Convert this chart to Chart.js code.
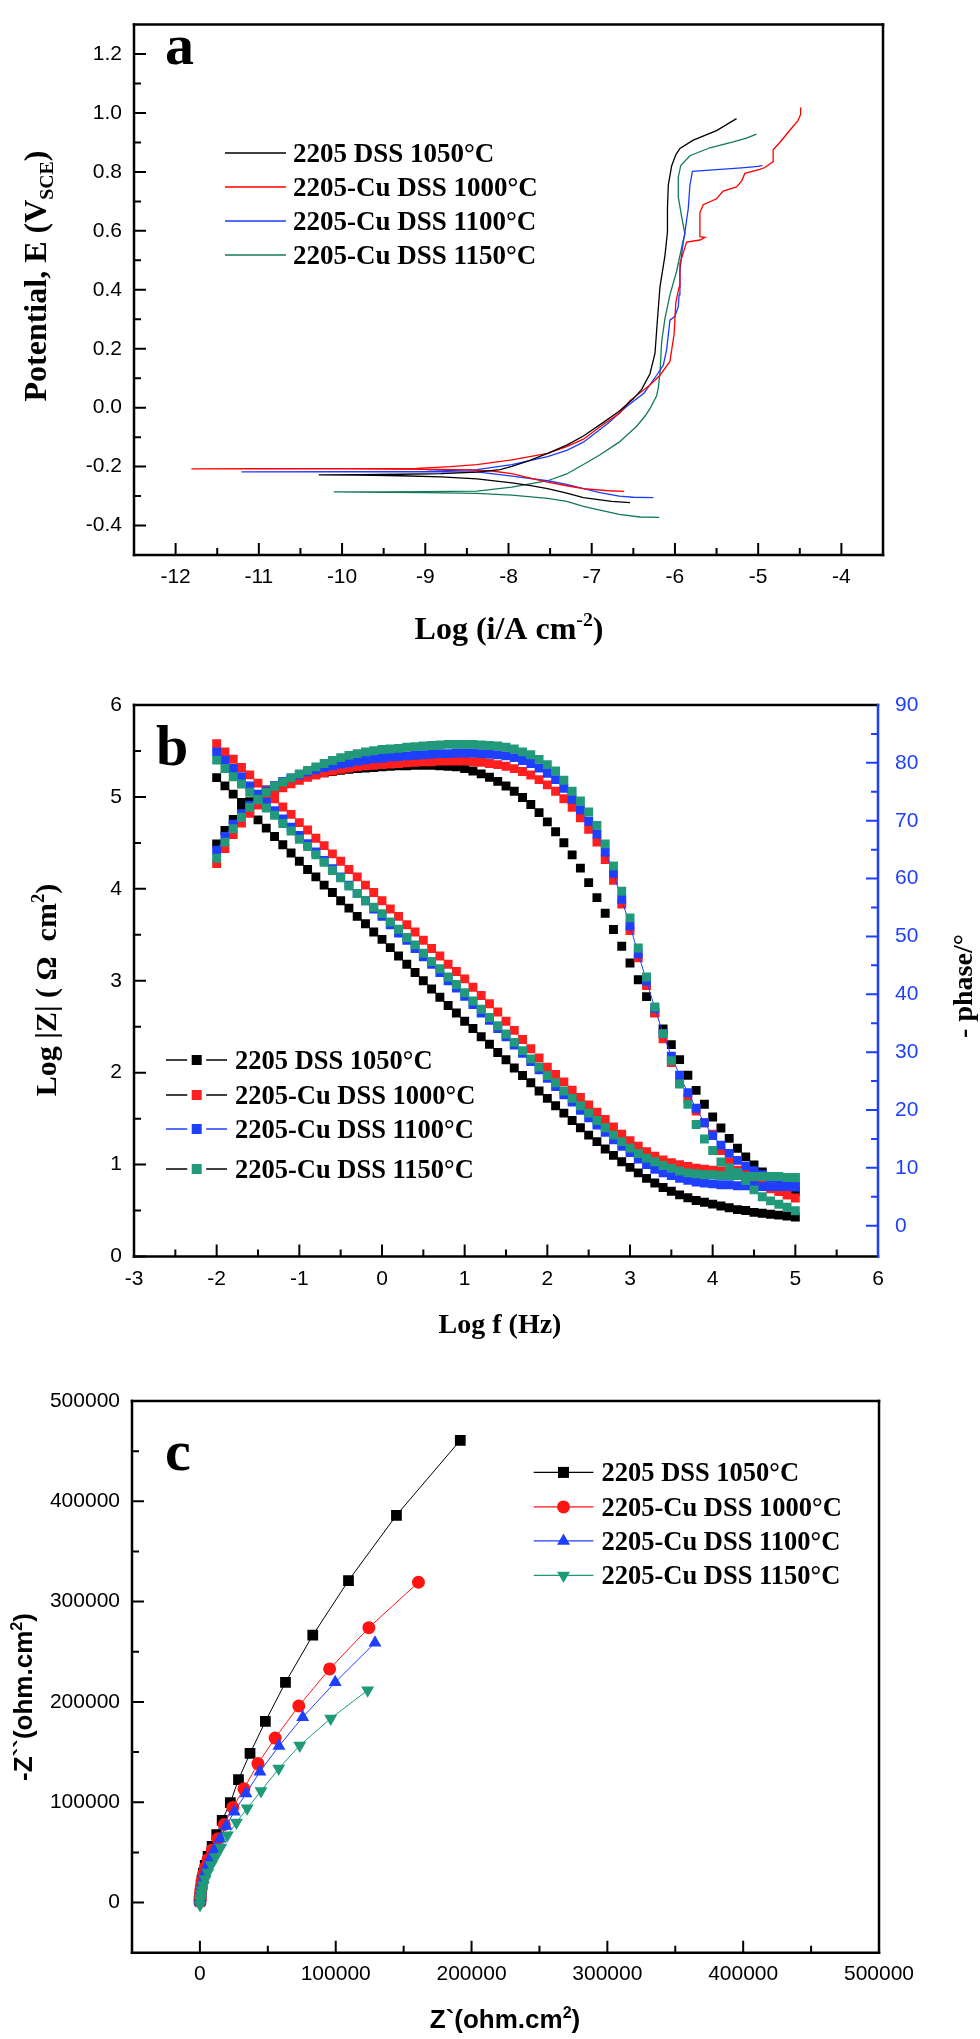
<!DOCTYPE html>
<html>
<head>
<meta charset="utf-8">
<script src="https://cdn.jsdelivr.net/npm/chart.js@4.4.1/dist/chart.umd.min.js"></script>
<style>
  html, body { margin: 0; padding: 0; background: #fff; }
  #page { position: relative; width: 980px; height: 2039px; overflow: hidden; background: #fff; }
  .panel { position: absolute; left: 0; width: 980px; }
</style>
</head>
<body>
<div id="page">
  <div class="panel" style="top:0;height:660px"><canvas id="chartA"></canvas></div>
  <div class="panel" style="top:660px;height:685px"><canvas id="chartB"></canvas></div>
  <div class="panel" style="top:1345px;height:694px"><canvas id="chartC"></canvas></div>
</div>
<script>
// ---------- labels ----------
const samples = ["2205 DSS 1050°C", "2205-Cu DSS 1000°C", "2205-Cu DSS 1100°C", "2205-Cu DSS 1150°C"];

// ---------- panel a : polarization curves (log i, E) ----------
const potX1050 = [-6.54,-6.76,-7.1,-7.3,-7.53,-7.75,-7.96,-8.38,-8.81,-9.3,-9.8,-10.28,-9.8,-9.3,-8.81,-8.38,-8.1,-7.96,-7.75,-7.53,-7.3,-7.1,-6.86,-6.67,-6.5,-6.4,-6.3,-6.24,-6.21,-6.18,-6.12,-6.09,-6.09,-6.08,-6.04,-5.99,-5.94,-5.78,-5.5,-5.26];
const potY1050 = [-0.322,-0.318,-0.305,-0.29,-0.275,-0.264,-0.255,-0.242,-0.235,-0.231,-0.229,-0.228,-0.227,-0.226,-0.224,-0.219,-0.21,-0.199,-0.18,-0.155,-0.127,-0.096,-0.05,-0.012,0.03,0.062,0.115,0.184,0.3,0.41,0.516,0.596,0.675,0.755,0.82,0.858,0.88,0.908,0.94,0.981];
const potX1000 = [-6.61,-6.8,-7.1,-7.3,-7.53,-7.75,-7.96,-8.2,-8.5,-9.0,-10.0,-11.0,-11.81,-11.0,-10.0,-9.11,-8.7,-8.38,-7.96,-7.53,-7.3,-7.1,-6.9,-6.67,-6.54,-6.3,-6.18,-6.06,-6.01,-5.99,-5.95,-5.94,-5.91,-5.86,-5.7,-5.64,-5.7,-5.7,-5.66,-5.5,-5.42,-5.26,-5.2,-5.16,-4.98,-4.92,-4.82,-4.82,-4.74,-4.58,-4.52,-4.49,-4.49];
const potY1000 = [-0.284,-0.282,-0.275,-0.265,-0.253,-0.238,-0.224,-0.215,-0.211,-0.209,-0.208,-0.208,-0.208,-0.207,-0.207,-0.206,-0.2,-0.193,-0.177,-0.155,-0.132,-0.107,-0.065,-0.02,0.024,0.077,0.11,0.157,0.25,0.356,0.41,0.49,0.516,0.562,0.569,0.578,0.58,0.662,0.689,0.709,0.735,0.749,0.769,0.795,0.809,0.815,0.835,0.875,0.9,0.955,0.975,0.995,1.019];
const potX1100 = [-6.26,-6.5,-6.67,-6.9,-7.1,-7.3,-7.53,-7.96,-8.38,-9.0,-10.0,-11.21,-10.0,-9.0,-8.38,-7.96,-7.53,-7.3,-7.1,-6.8,-6.58,-6.37,-6.22,-6.14,-6.1,-6.06,-6.0,-5.96,-5.95,-5.94,-5.91,-5.88,-5.84,-5.82,-5.79,-5.5,-5.2,-5.0,-4.95];
const potY1100 = [-0.305,-0.304,-0.3,-0.288,-0.275,-0.26,-0.248,-0.232,-0.218,-0.218,-0.218,-0.218,-0.217,-0.216,-0.21,-0.193,-0.166,-0.145,-0.117,-0.052,0.004,0.05,0.11,0.144,0.197,0.297,0.31,0.343,0.383,0.463,0.543,0.596,0.676,0.755,0.802,0.808,0.814,0.819,0.822];
const potX1150 = [-6.19,-6.42,-6.67,-6.9,-7.1,-7.3,-7.53,-7.96,-8.38,-9.0,-9.5,-10.1,-9.5,-9.0,-8.38,-7.96,-7.53,-7.3,-7.1,-6.9,-6.67,-6.46,-6.35,-6.29,-6.22,-6.2,-6.18,-6.16,-6.12,-6.06,-5.98,-5.9,-5.88,-5.92,-5.96,-5.96,-5.93,-5.82,-5.58,-5.3,-5.14,-5.02];
const potY1150 = [-0.372,-0.371,-0.362,-0.348,-0.335,-0.318,-0.308,-0.297,-0.291,-0.288,-0.287,-0.286,-0.286,-0.285,-0.283,-0.27,-0.248,-0.225,-0.193,-0.16,-0.117,-0.063,-0.025,0.002,0.04,0.067,0.117,0.223,0.303,0.383,0.463,0.569,0.589,0.649,0.715,0.782,0.822,0.855,0.882,0.902,0.915,0.928];
const aXTicks = [-12,-11,-10,-9,-8,-7,-6,-5,-4];
const aYTicks = [-0.4,-0.2,0.0,0.2,0.4,0.6,0.8,1.0,1.2];

// ---------- panel b : Bode plots ----------
const logF = [-2.0,-1.9,-1.8,-1.7,-1.6,-1.5,-1.4,-1.3,-1.2,-1.1,
  -1.0,-0.9,-0.8,-0.7,-0.6,-0.5,-0.4,-0.3,-0.2,-0.1,
  0.0,0.1,0.2,0.3,0.4,0.5,0.6,0.7,0.8,0.9,
  1.0,1.1,1.2,1.3,1.4,1.5,1.6,1.7,1.8,1.9,
  2.0,2.1,2.2,2.3,2.4,2.5,2.6,2.7,2.8,2.9,
  3.0,3.1,3.2,3.3,3.4,3.5,3.6,3.7,3.8,3.9,
  4.0,4.1,4.2,4.3,4.4,4.5,4.6,4.7,4.8,4.9,5.0];
const logZ1050 = [5.21,5.12,5.03,4.94,4.85,4.75,4.66,4.57,4.48,4.39,
  4.30,4.21,4.13,4.04,3.96,3.87,3.79,3.70,3.62,3.53,
  3.45,3.36,3.27,3.18,3.09,3.00,2.91,2.82,2.73,2.65,
  2.56,2.48,2.39,2.31,2.22,2.14,2.05,1.97,1.89,1.80,
  1.72,1.64,1.56,1.48,1.40,1.32,1.25,1.17,1.10,1.03,
  0.97,0.91,0.85,0.80,0.75,0.71,0.67,0.64,0.61,0.59,
  0.57,0.55,0.53,0.51,0.50,0.48,0.47,0.46,0.45,0.44,0.43];
const logZ1000 = [5.58,5.49,5.41,5.32,5.24,5.15,5.07,4.98,4.89,4.81,
  4.72,4.64,4.55,4.47,4.38,4.30,4.21,4.13,4.04,3.96,
  3.87,3.78,3.70,3.61,3.53,3.44,3.35,3.27,3.18,3.10,
  3.02,2.93,2.84,2.75,2.66,2.56,2.46,2.36,2.26,2.16,
  2.06,1.98,1.90,1.81,1.73,1.65,1.57,1.49,1.41,1.33,
  1.26,1.20,1.14,1.09,1.05,1.02,1.00,0.98,0.96,0.95,
  0.94,0.93,0.92,0.91,0.90,0.89,0.88,0.87,0.86,0.86,0.85];
const logZ1100 = [5.49,5.40,5.31,5.22,5.12,5.03,4.94,4.85,4.76,4.67,
  4.58,4.49,4.40,4.31,4.22,4.13,4.04,3.95,3.87,3.78,
  3.70,3.61,3.52,3.44,3.35,3.26,3.18,3.09,3.00,2.92,
  2.83,2.74,2.65,2.57,2.48,2.39,2.30,2.21,2.12,2.03,
  1.94,1.85,1.76,1.68,1.59,1.51,1.43,1.35,1.27,1.20,
  1.13,1.06,1.00,0.95,0.91,0.88,0.85,0.83,0.81,0.80,
  0.79,0.78,0.78,0.77,0.77,0.77,0.76,0.76,0.76,0.76,0.76];
const logZ1150 = [5.40,5.31,5.22,5.14,5.05,4.97,4.88,4.80,4.71,4.63,
  4.54,4.46,4.37,4.29,4.20,4.12,4.03,3.95,3.87,3.80,
  3.73,3.64,3.56,3.47,3.39,3.30,3.21,3.13,3.04,2.96,
  2.87,2.78,2.69,2.60,2.51,2.42,2.33,2.24,2.15,2.06,
  1.97,1.89,1.80,1.72,1.64,1.56,1.48,1.40,1.32,1.25,
  1.18,1.12,1.07,1.03,0.99,0.96,0.93,0.91,0.90,0.89,
  0.89,0.88,0.88,0.88,0.87,0.87,0.87,0.87,0.87,0.86,0.86];
const phase1050 = [66.0,68.3,70.2,72.0,73.3,74.4,75.3,76.0,76.6,77.1,
  77.5,77.8,78.1,78.3,78.5,78.7,78.9,79.0,79.1,79.2,
  79.3,79.4,79.5,79.5,79.6,79.6,79.6,79.5,79.4,79.3,
  79.0,78.6,78.1,77.5,76.8,76.0,75.1,74.0,72.8,71.4,
  69.8,68.1,66.2,64.1,61.8,59.3,56.7,54.0,51.2,48.3,
  45.4,42.5,39.6,36.8,34.0,31.3,28.7,26.0,23.4,21.0,
  18.8,16.9,15.1,13.4,11.9,10.5,9.3,8.3,7.4,6.6,5.9];
const phase1000 = [62.6,65.2,67.6,69.6,71.3,72.7,73.9,74.9,75.7,76.4,
  77.0,77.5,77.9,78.3,78.6,78.9,79.1,79.3,79.5,79.6,
  79.7,79.8,79.9,80.0,80.1,80.2,80.2,80.3,80.3,80.3,
  80.3,80.2,80.1,79.9,79.7,79.4,79.0,78.5,77.9,77.1,
  76.2,75.1,73.8,72.3,70.5,68.5,66.3,63.3,59.7,55.6,
  51.0,46.3,41.5,36.8,32.3,28.2,24.8,22.0,19.8,17.8,
  15.8,13.0,11.0,9.6,8.5,7.7,7.0,6.4,5.9,5.3,4.8];
const phase1100 = [64.9,67.3,69.4,71.2,72.7,74.0,75.1,76.0,76.8,77.4,
  77.9,78.4,78.8,79.2,79.5,79.8,80.0,80.3,80.5,80.7,
  80.8,81.0,81.1,81.2,81.3,81.4,81.5,81.6,81.6,81.7,
  81.7,81.7,81.6,81.5,81.4,81.2,80.9,80.4,79.9,79.1,
  78.2,77.1,75.6,73.7,71.9,69.9,67.7,64.6,60.9,56.4,
  51.8,47.0,42.3,37.6,33.2,29.3,26.0,23.0,20.3,17.8,
  15.6,13.9,12.5,11.3,10.3,9.5,8.8,8.2,7.6,7.1,6.7];
const phase1150 = [63.5,66.3,68.6,70.6,72.3,73.7,74.9,75.9,76.7,77.4,
  78.1,78.7,79.3,79.9,80.4,80.9,81.3,81.6,81.9,82.1,
  82.3,82.4,82.5,82.7,82.8,82.9,83.0,83.1,83.2,83.2,
  83.2,83.2,83.1,83.0,82.9,82.7,82.4,81.9,81.4,80.6,
  79.7,78.6,77.0,75.1,73.4,71.5,69.2,66.0,62.2,57.8,
  53.2,48.0,43.0,37.8,33.2,28.5,24.5,21.0,17.5,15.0,
  13.0,11.0,10.0,9.2,7.8,6.2,5.0,4.3,3.7,3.2,2.6];
const bXTicks = [-3,-2,-1,0,1,2,3,4,5,6];
const bYTicks = [0,1,2,3,4,5,6];
const bPhaseTicks = [0,10,20,30,40,50,60,70,80,90];

// ---------- panel c : Nyquist plots ----------
const nyqX1050 = [191700,144700,109400,83100,63000,48200,36900,28400,22400,16400,12400,9000,6000,3900,2500,1500,900,500,300,150,60];
const nyqY1050 = [460800,386100,321000,266500,219500,180500,148800,122500,99600,82000,67800,56000,46000,37000,29000,22000,16000,11000,7000,4000,1500];
const nyqX1000 = [160900,124400,95500,72800,55400,42700,32400,24200,17900,13100,9000,6000,4000,2600,1600,1000,600,350,200,100,50];
const nyqY1000 = [319300,274000,232900,196000,164000,138500,113400,94800,77800,63500,52500,43000,35000,28000,21500,16000,11500,7500,4500,2500,1000];
const nyqX1100 = [128900,99600,75700,58200,44200,33900,25300,19250,14900,10700,7500,5000,3300,2100,1300,800,450,250,130,60];
const nyqY1100 = [258900,219600,184800,156000,130500,108600,90600,76400,63500,53000,44000,36000,29000,22500,17000,12000,8000,4800,2500,1000];
const nyqX1150 = [123500,96300,73500,58000,45000,34800,26900,20200,15400,11500,8300,5800,3900,2500,1500,900,500,250,100];
const nyqY1150 = [211700,183500,156600,133600,111100,93900,79700,67000,55000,45500,37500,30000,23500,17500,12500,8500,5000,2000,-2500];
const cTicks = [0,100000,200000,300000,400000,500000];

// ---------- styling ----------
const SERIF = '"Liberation Serif", "Times New Roman", serif';
const SANS = '"Liberation Sans", Arial, sans-serif';
const colA = ["#000000", "#ff0000", "#1a3cff", "#147a55"];
const colB = ["#000000", "#ff1f1f", "#1f3fff", "#22997a"];
const colC = ["#000000", "#ff1414", "#1f3fff", "#1f9a78"];
const BLUE_AXIS = "#1f3fff";

Chart.defaults.font.family = SANS;
Chart.defaults.color = "#000";

function pairs(xs, ys) {
  return xs.map((v, i) => ({ x: v, y: ys[i] }));
}

function line(ctx, x1, y1, x2, y2, color) {
  ctx.strokeStyle = color;
  ctx.beginPath();
  ctx.moveTo(x1, y1);
  ctx.lineTo(x2, y2);
  ctx.stroke();
}

// text with superscript (1) / subscript (-1) parts
function drawRich(ctx, parts, size, family, x, y, rot) {
  ctx.save();
  ctx.translate(x, y);
  if (rot) ctx.rotate(rot);
  ctx.fillStyle = "#000";
  ctx.textAlign = "left";
  ctx.textBaseline = "alphabetic";
  let total = 0;
  const items = parts.map(p => {
    const t = typeof p === "string" ? p : p[0];
    const m = typeof p === "string" ? 0 : p[1];
    const sz = m ? size * 0.62 : size;
    ctx.font = "bold " + sz + "px " + family;
    const w = ctx.measureText(t).width;
    total += w;
    return { t, m, sz, w };
  });
  let cx = -total / 2;
  items.forEach(it => {
    ctx.font = "bold " + it.sz + "px " + family;
    const dy = it.m === 1 ? -size * 0.4 : it.m === -1 ? size * 0.22 : 0;
    ctx.fillText(it.t, cx, dy);
    cx += it.w;
  });
  ctx.restore();
}

function drawMarker(ctx, kind, x, y, color) {
  ctx.fillStyle = color;
  ctx.beginPath();
  if (kind === "rect") {
    ctx.rect(x - 5.5, y - 5.5, 11, 11);
  } else if (kind === "rectSmall") {
    ctx.rect(x - 5, y - 5, 10, 10);
  } else if (kind === "circle") {
    ctx.arc(x, y, 6.5, 0, Math.PI * 2);
  } else if (kind === "tri") {
    ctx.moveTo(x, y - 7.5);
    ctx.lineTo(x + 6.5, y + 3.75);
    ctx.lineTo(x - 6.5, y + 3.75);
    ctx.closePath();
  } else if (kind === "triDown") {
    ctx.moveTo(x, y + 7.5);
    ctx.lineTo(x + 6.5, y - 3.75);
    ctx.lineTo(x - 6.5, y - 3.75);
    ctx.closePath();
  }
  ctx.fill();
}

// frame, inward ticks, axis titles, legend and panel letter
function makeDeco(cfg) {
  return {
    id: "deco",
    afterDraw(chart) {
      const ctx = chart.ctx;
      const a = chart.chartArea;
      ctx.save();
      ctx.lineCap = "butt";
      cfg.ticks.forEach(t => {
        const sc = chart.scales[t.scale];
        ctx.strokeStyle = t.color;
        ctx.lineWidth = 2;
        const marks = [];
        t.values.forEach((v, i) => {
          marks.push([v, 12]);
          if (i < t.values.length - 1) marks.push([(v + t.values[i + 1]) / 2, 7]);
        });
        ctx.beginPath();
        marks.forEach(([v, len]) => {
          const p = sc.getPixelForValue(v);
          if (t.side === "bottom") { ctx.moveTo(p, a.bottom); ctx.lineTo(p, a.bottom - len); }
          else if (t.side === "left") { ctx.moveTo(a.left, p); ctx.lineTo(a.left + len, p); }
          else { ctx.moveTo(a.right, p); ctx.lineTo(a.right - len, p); }
        });
        ctx.stroke();
      });

      ctx.lineWidth = 2.5;
      ctx.lineCap = "square";
      const f = cfg.frame;
      line(ctx, a.left, a.top, a.right, a.top, f.top);
      line(ctx, a.left, a.bottom, a.right, a.bottom, f.bottom);
      line(ctx, a.left, a.top, a.left, a.bottom, f.left);
      line(ctx, a.right, a.top, a.right, a.bottom, f.right);

      cfg.titles.forEach(t => drawRich(ctx, t.parts, t.size, t.family, t.x, t.y, t.rot));

      const L = cfg.legend;
      ctx.lineCap = "butt";
      L.rows.forEach((y, i) => {
        const it = L.items[i];
        ctx.lineWidth = L.lineWidth;
        if (L.kind === "split") {
          line(ctx, L.x1, y, L.mx - 9.5, y, it.line);
          line(ctx, L.mx + 9.5, y, L.x2, y, it.line);
        } else {
          line(ctx, L.x1, y, L.x2, y, it.color);
        }
        if (it.marker) drawMarker(ctx, it.marker, L.mx, y, it.color);
        ctx.fillStyle = "#000";
        ctx.font = "bold " + L.size + "px " + SERIF;
        ctx.textAlign = "left";
        ctx.textBaseline = "alphabetic";
        ctx.fillText(it.label, L.tx, y + L.size * 0.33);
      });

      ctx.fillStyle = "#000";
      ctx.font = "bold 58px " + SERIF;
      ctx.textAlign = "left";
      ctx.textBaseline = "alphabetic";
      ctx.fillText(cfg.letter.t, cfg.letter.x, cfg.letter.y);
      ctx.restore();
    }
  };
}

function axisBase(min, max, ticks, fmt, pad, color) {
  return {
    type: "linear",
    min: min,
    max: max,
    afterBuildTicks: s => { s.ticks = ticks.map(v => ({ value: v })); },
    grid: { display: false, drawTicks: false },
    border: { display: false },
    ticks: {
      font: { family: SANS, size: 21 },
      color: color || "#000",
      padding: pad,
      autoSkip: false,
      maxRotation: 0,
      callback: fmt
    }
  };
}

const common = {
  responsive: true,
  maintainAspectRatio: false,
  animation: false,
  events: []
};

// ---------- chart a ----------
const potSeries = [[potX1050, potY1050], [potX1000, potY1000], [potX1100, potY1100], [potX1150, potY1150]];
const xA = axisBase(-12.5, -3.5, aXTicks, v => String(v), 10);
xA.afterFit = s => { s.height = 105; };
const yA = axisBase(-0.5, 1.3, aYTicks, v => v.toFixed(1), 12);
yA.afterFit = s => { s.width = 134; };

new Chart("chartA", {
  type: "scatter",
  data: {
    datasets: potSeries.map((s, i) => ({
      label: samples[i],
      data: pairs(s[0], s[1]),
      showLine: true,
      borderColor: colA[i],
      borderWidth: 1.3,
      pointRadius: 0,
      tension: 0,
      fill: false
    }))
  },
  options: Object.assign({}, common, {
    layout: { padding: { left: 0, right: 97, top: 4, bottom: 0 } },
    plugins: { legend: { display: false }, tooltip: { enabled: false } },
    scales: { x: xA, y: yA }
  }),
  plugins: [makeDeco({
    frame: { top: "#000", bottom: "#000", left: "#000", right: "#000" },
    ticks: [
      { scale: "x", side: "bottom", values: aXTicks, color: "#000" },
      { scale: "y", side: "left", values: aYTicks, color: "#000" }
    ],
    titles: [
      { parts: ["Log (i/A cm", ["-2", 1], ")"], size: 32, family: SERIF, x: 509, y: 639, rot: 0 },
      { parts: ["Potential, E (V", ["SCE", -1], ")"], size: 32, family: SERIF, x: 46, y: 276, rot: -Math.PI / 2 }
    ],
    legend: {
      kind: "line", rows: [153, 187, 221, 255], x1: 225, x2: 286, tx: 293, size: 27, lineWidth: 1.5,
      items: samples.map((s, i) => ({ label: s, color: colA[i] }))
    },
    letter: { t: "a", x: 165, y: 64 }
  })]
});

// ---------- chart b ----------
const zSeries = [logZ1050, logZ1000, logZ1100, logZ1150];
const phSeries = [phase1050, phase1000, phase1100, phase1150];
const drawOrder = [3, 2, 1, 0];
const bDatasets = [];
zSeries.forEach((s, i) => {
  bDatasets.push({
    label: samples[i] + " |Z|",
    data: pairs(logF, s),
    yAxisID: "y",
    order: drawOrder[i],
    showLine: i === 2,
    borderColor: colB[i],
    borderWidth: 1,
    pointStyle: "rect",
    pointRadius: 6.3,
    pointBorderWidth: 0,
    pointBackgroundColor: colB[i]
  });
});
phSeries.forEach((s, i) => {
  bDatasets.push({
    label: samples[i] + " phase",
    data: pairs(logF, s),
    yAxisID: "y1",
    order: drawOrder[i],
    showLine: i === 2,
    borderColor: colB[i],
    borderWidth: 1,
    pointStyle: "rect",
    pointRadius: 6.3,
    pointBorderWidth: 0,
    pointBackgroundColor: colB[i]
  });
});
const xB = axisBase(-3, 6, bXTicks, v => String(v), 10);
xB.afterFit = s => { s.height = 88.5; };
const yB = axisBase(0, 6, bYTicks, v => String(v), 12);
yB.afterFit = s => { s.width = 134; };
const y1B = axisBase(-5.32, 90, bPhaseTicks, v => String(v), 17, BLUE_AXIS);
y1B.position = "right";
y1B.afterFit = s => { s.width = 102; };

new Chart("chartB", {
  type: "scatter",
  data: { datasets: bDatasets },
  options: Object.assign({}, common, {
    layout: { padding: { left: 0, right: 0, top: 45, bottom: 0 } },
    plugins: { legend: { display: false }, tooltip: { enabled: false } },
    scales: { x: xB, y: yB, y1: y1B }
  }),
  plugins: [makeDeco({
    frame: { top: "#000", bottom: "#000", left: "#000", right: BLUE_AXIS },
    ticks: [
      { scale: "x", side: "bottom", values: bXTicks, color: "#000" },
      { scale: "y", side: "left", values: bYTicks, color: "#000" },
      { scale: "y1", side: "right", values: bPhaseTicks, color: BLUE_AXIS }
    ],
    titles: [
      { parts: ["Log f (Hz)"], size: 28, family: SERIF, x: 500, y: 673, rot: 0 },
      { parts: ["Log |Z| ( Ω  cm", ["2", 1], ")"], size: 30, family: SERIF, x: 56, y: 330, rot: -Math.PI / 2 },
      { parts: ["- phase/°"], size: 28, family: SERIF, x: 972, y: 326, rot: -Math.PI / 2 }
    ],
    legend: {
      kind: "split", rows: [400, 435, 469, 509], x1: 166, x2: 227, mx: 196.7, tx: 235, size: 26.5, lineWidth: 1.5,
      items: samples.map((s, i) => ({ label: s, color: colB[i], line: i === 2 ? colB[2] : "#000", marker: "rectSmall" }))
    },
    letter: { t: "b", x: 156, y: 105 }
  })]
});

// ---------- chart c ----------
const nyqSeries = [[nyqX1050, nyqY1050], [nyqX1000, nyqY1000], [nyqX1100, nyqY1100], [nyqX1150, nyqY1150]];
const cStyles = [
  { pointStyle: "rect", pointRadius: 7.6, rotation: 0 },
  { pointStyle: "circle", pointRadius: 6.5, rotation: 0 },
  { pointStyle: "triangle", pointRadius: 7.5, rotation: 0 },
  { pointStyle: "triangle", pointRadius: 7.5, rotation: 180 }
];
const xC = axisBase(-50000, 500000, cTicks, v => String(v), 9);
xC.afterFit = s => { s.height = 86.3; };
const yC = axisBase(-50000, 500000, cTicks, v => String(v), 12);
yC.afterFit = s => { s.width = 132; };

new Chart("chartC", {
  type: "scatter",
  data: {
    datasets: nyqSeries.map((s, i) => ({
      label: samples[i],
      data: pairs(s[0], s[1]),
      order: drawOrder[i],
      showLine: true,
      borderColor: colC[i],
      borderWidth: 1,
      tension: 0,
      pointStyle: cStyles[i].pointStyle,
      pointRadius: cStyles[i].pointRadius,
      pointRotation: cStyles[i].rotation,
      pointBorderWidth: 0,
      pointBackgroundColor: colC[i]
    }))
  },
  options: Object.assign({}, common, {
    layout: { padding: { left: 0, right: 101, top: 56, bottom: 0 } },
    plugins: { legend: { display: false }, tooltip: { enabled: false } },
    scales: { x: xC, y: yC }
  }),
  plugins: [makeDeco({
    frame: { top: "#000", bottom: "#000", left: "#000", right: "#000" },
    ticks: [
      { scale: "x", side: "bottom", values: cTicks, color: "#000" },
      { scale: "y", side: "left", values: cTicks, color: "#000" }
    ],
    titles: [
      { parts: ["Z`(ohm.cm", ["2", 1], ")"], size: 26, family: SANS, x: 505, y: 683, rot: 0 },
      { parts: ["-Z``(ohm.cm", ["2", 1], ")"], size: 26, family: SANS, x: 32, y: 352, rot: -Math.PI / 2 }
    ],
    legend: {
      kind: "line", rows: [127.4, 161.9, 195.9, 230.4], x1: 533.7, x2: 593.4, mx: 563.5, tx: 601.5, size: 26.5, lineWidth: 1.3,
      items: samples.map((s, i) => ({ label: s, color: colC[i], marker: ["rect", "circle", "tri", "triDown"][i] }))
    },
    letter: { t: "c", x: 165, y: 125 }
  })]
});
</script>
</body>
</html>
